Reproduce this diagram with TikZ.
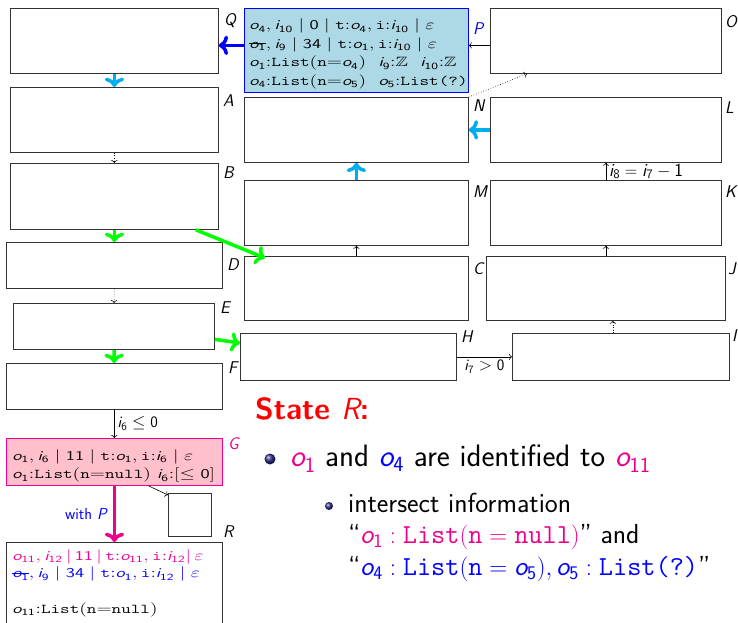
\documentclass[tikz,border=0pt]{standalone}
\usepackage{amsmath,amssymb}
\usepackage{graphicx}
\usepackage{xcolor}
\usepackage{tikz}
\usetikzlibrary{positioning,arrows.meta,calc}

\definecolor{boxblue}{RGB}{173,216,230}
\definecolor{gpink}{RGB}{255,192,203}
\definecolor{mag}{RGB}{236,0,140}
\definecolor{cyn}{RGB}{0,174,239}
\definecolor{grn}{RGB}{0,255,0}
\definecolor{blu}{RGB}{0,0,255}
\definecolor{rd}{RGB}{255,0,0}
\definecolor{ballc}{RGB}{45,45,140}

\newcommand{\sfi}[1]{\text{\sffamily\itshape #1}}
\newcommand{\vo}[1]{\sfi{o}_{\text{\sffamily #1}}}
\newcommand{\vi}[1]{\sfi{i}_{\text{\sffamily #1}}}
\newcommand{\snum}[1]{\text{\sffamily #1}}
\newcommand{\strk}[1]{\setbox0\hbox{$#1$}\rlap{\rule[0.8ex]{\wd0}{0.6pt}}\box0}
\newcommand{\wl}[1]{\scalebox{1.38}[1]{#1}}

\begin{document}
\begin{tikzpicture}[x=1pt, y=-1pt,
  st/.style={draw=black!80, line width=0.8pt, anchor=north west, inner sep=0pt},
  lbl/.style={anchor=north west, inner sep=0pt, label distance=0pt,
              font=\fontsize{17}{17}\selectfont\sffamily\itshape},
  txt/.style={font=\fontsize{13.5}{18.5}\selectfont\sffamily, align=left},
  elbl/.style={font=\fontsize{16}{18}\selectfont\sffamily, inner sep=3pt},
  arr/.style={->, line width=0.6pt},
  darr/.style={arr, dotted},
  fat/.style={->, line width=3.5pt},
  big/.style={font=\fontsize{31}{36}\selectfont\sffamily, anchor=base west, inner sep=0pt},
  sub/.style={big, font=\fontsize{27.5}{32}\selectfont\sffamily},
  bul/.style={circle, inner sep=0pt, minimum size=#1, ball color=ballc},
]
\useasboundingbox (0,0) rectangle (738,623);

% left column
\node[st, minimum width=208, minimum height=65, label={[lbl, xshift=5pt, yshift=-5pt]north east:Q}] (q) at (10,8) {};
\node[st, minimum width=208, minimum height=65, label={[lbl, xshift=4pt, yshift=-8pt]north east:A}] (a) at (10,87) {};
\node[st, minimum width=208, minimum height=66, label={[lbl, xshift=4pt, yshift=-4pt]north east:B}] (b) at (10,163) {};
\node[st, minimum width=216, minimum height=46, label={[lbl, xshift=4pt, yshift=-16pt]north east:D}] (d) at (6,242) {};
\node[st, minimum width=201, minimum height=46, label={[lbl, xshift=5pt, yshift=1pt]north east:E}] (e) at (13,303) {};
\node[st, minimum width=216, minimum height=46, label={[lbl, xshift=5pt, yshift=1pt]north east:F}] (f) at (6,363) {};
\node[st, txt, draw=mag, fill=gpink, text width=204pt, inner xsep=6pt, minimum height=47,
      label={[lbl, text=mag, xshift=5pt, yshift=1pt]north east:G}] (g) at (6,438)
  {\rule{0pt}{19pt}\wl{$\vo{1}, \vi{6} \mid \snum{11} \mid \texttt{t}{:}\vo{1},\texttt{i}{:}\vi{6} \mid \varepsilon$}\\
   \wl{$\vo{1}{:}\texttt{List}(\texttt{n}{=}\texttt{null})$\ $\vi{6}{:}[\leq \snum{0}]$}};
\node[st, minimum width=43, minimum height=43] (r) at (168,493) {};
\node[st, txt, font=\fontsize{13.5}{17.7}\selectfont\sffamily, text width=204pt, inner xsep=6pt, inner ysep=7pt,
      label={[lbl, xshift=0pt, yshift=17pt]north east:R}] (s) at (6,542)
  {\textcolor{mag}{\wl{$\vo{11}, \vi{12}\,|\,\snum{11}\,|\,\texttt{t}{:}\vo{11},\texttt{i}{:}\vi{12}|\,\varepsilon$}}\\
   \textcolor{blu}{\wl{$\strk{\vo{1}}, \vi{9} \mid \snum{34} \mid \texttt{t}{:}\vo{1},\texttt{i}{:}\vi{12} \mid \varepsilon$}}\\
   \mbox{}\\
   \wl{$\vo{11}{:}\texttt{List}(\texttt{n}{=}\texttt{null})$}\\
   \mbox{}};

% middle column
\node[st, txt, draw=blu, fill=boxblue, text width=214pt, inner xsep=5pt, minimum height=84,
      label={[lbl, text=blu, xshift=4pt, yshift=-15pt]north east:P}] (p) at (244,8)
  {\rule{0pt}{18pt}\wl{$\vo{4}, \vi{10} \mid \snum{0} \mid \texttt{t}{:}\vo{4},\texttt{i}{:}\vi{10} \mid \varepsilon$}\\
   \wl{$\strk{\vo{1}}, \vi{9} \mid \snum{34} \mid \texttt{t}{:}\vo{1},\texttt{i}{:}\vi{10} \mid \varepsilon$}\\
   \wl{$\vo{1}{:}\texttt{List}(\texttt{n}{=}\vo{4})$\ \ $\vi{9}{:}\mathbb{Z}$\ \ $\vi{10}{:}\mathbb{Z}$}\\
   \wl{$\vo{4}{:}\texttt{List}(\texttt{n}{=}\vo{5})$\ \ $\vo{5}{:}\texttt{List(?)}$}};
\node[st, minimum width=224, minimum height=65, label={[lbl, xshift=4pt, yshift=-3pt]north east:N}] (n) at (244,97) {};
\node[st, minimum width=224, minimum height=65, label={[lbl, xshift=4pt, yshift=-6pt]north east:M}] (m) at (244,180) {};
\node[st, minimum width=224, minimum height=64, label={[lbl, xshift=4pt, yshift=-6pt]north east:C}] (c) at (244,256) {};
\node[st, minimum width=216, minimum height=47, label={[lbl, xshift=4pt, yshift=3pt]north east:H}] (h) at (240,333) {};

% right column
\node[st, minimum width=231, minimum height=65, label={[lbl, xshift=3pt, yshift=-7pt]north east:O}] (o) at (490,8) {};
\node[st, minimum width=231, minimum height=65, label={[lbl, xshift=3pt, yshift=-5pt]north east:L}] (l) at (490,97) {};
\node[st, minimum width=231, minimum height=65, label={[lbl, xshift=3pt, yshift=-6pt]north east:K}] (k) at (490,180) {};
\node[st, minimum width=239, minimum height=64, label={[lbl, xshift=2pt, yshift=-6pt]north east:J}] (j) at (486,256) {};
\node[st, minimum width=217, minimum height=47, label={[lbl, xshift=2pt, yshift=4pt]north east:I}] (i) at (512,333) {};

% connectors
\coordinate (pq) at ([yshift=-4.5pt]q.east);
\draw[fat, blu] (pq -| p.west) -- (pq);
\coordinate (op) at ([yshift=-4.5pt]o.west);
\draw[arr] (op) -- (op -| p.east);
\draw[fat, cyn] (q) -- (a);
\draw[darr] (a) -- (b);
\draw[fat, grn] (b) -- (d);
\draw[fat, grn] ([xshift=-23pt]b.south east) -- ([xshift=21pt, yshift=-2pt]c.north west);
\draw[darr] (d) -- (e);
\draw[fat, grn] (e) -- (f);
\draw[fat, grn] ([yshift=-13pt]e.east) -- ([yshift=-10pt]h.north west);
\draw[arr] (f) -- node[elbl, right] (lf) {$\vi{6}\leq\snum{0}$} (g);
\draw[fat, mag] (g) -- node[elbl, left, text=blu, xshift=-3pt] (lw) {with $\sfi{P}$} (s);
\draw[arr] ([xshift=34pt]g.south) -- ([yshift=-2pt]r.north west);
\draw[arr] (h) -- node[elbl, below] (lh) {$\vi{7}>\snum{0}$} (i);
\draw[darr] ([xshift=-8pt]i.north) -- ([xshift=-8pt]i.north |- j.south);
\draw[arr] (j) -- (k);
\draw[arr] (k) -- node[elbl, right, font=\fontsize{18.5}{20}\selectfont\sffamily] (lk) {$\vi{8}=\vi{7}-\snum{1}$} (l);
\draw[arr] (c) -- (m);
\draw[fat, cyn] (m) -- (n);
\draw[fat, cyn] (l) -- (n);
\draw[darr] (n.north east) -- ([xshift=37pt]o.south west);

% state R text
\node[font=\fontsize{30.5}{35}\selectfont\sffamily\bfseries, text=rd, anchor=base west, inner sep=0pt] (stt) at (255,419) {State {\mdseries\itshape R}:};
\node[bul=11pt] (bl1) at (270,459) {};
\node[big] (it1) at (290,466) {\textcolor{mag}{$\vo{1}$} and \textcolor{blu}{$\vo{4}$} are identified to \textcolor{mag}{$\vo{11}$}};
\node[bul=8pt] (bl2) at (329,506) {};
\node[sub] (it2) at (348,512) {intersect information};
\node[sub] (it3) at (348,543) {``\textcolor{mag}{$\vo{1}:\texttt{List}(\texttt{n}=\texttt{null})$}'' and};
\node[sub] (it4) at (348,575) {``\textcolor{blu}{$\vo{4}:\texttt{List}(\texttt{n}=\vo{5}), \vo{5}:\texttt{List(?)}$}''};
\end{tikzpicture}
\end{document}
